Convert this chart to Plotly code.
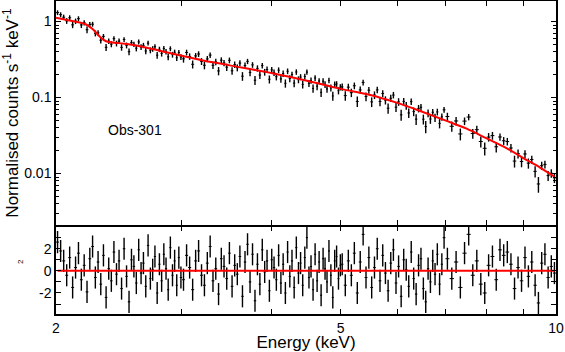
import numpy as np
import plotly.graph_objects as go
from plotly.subplots import make_subplots

# bin centres (keV)
energy = [
    2.01, 2.03, 2.05, 2.07, 2.09, 2.11, 2.13, 2.15, 2.17, 2.19,
    2.21, 2.23, 2.25, 2.27, 2.29, 2.31, 2.33, 2.35, 2.37, 2.39,
    2.41, 2.43, 2.45, 2.47, 2.49, 2.51, 2.53, 2.55, 2.57, 2.59,
    2.61, 2.63, 2.65, 2.67, 2.69, 2.71, 2.73, 2.75, 2.77, 2.79,
    2.81, 2.83, 2.85, 2.87, 2.89, 2.91, 2.93, 2.95, 2.97, 2.99,
    3.015, 3.045, 3.075, 3.105, 3.135, 3.165, 3.195,
    3.225, 3.255, 3.285, 3.315, 3.345, 3.375, 3.405, 3.435, 3.465, 3.495,
    3.525, 3.555, 3.585, 3.615, 3.645, 3.675, 3.705, 3.735, 3.765, 3.795,
    3.825, 3.855, 3.885, 3.915, 3.945, 3.975,
    4.005, 4.035, 4.065, 4.095, 4.125, 4.155, 4.185, 4.215, 4.245, 4.275,
    4.305, 4.335, 4.365, 4.395, 4.425, 4.455, 4.485,
    4.515, 4.545, 4.575, 4.605, 4.635, 4.665, 4.695, 4.725, 4.755, 4.785,
    4.815, 4.845, 4.875, 4.905, 4.935, 4.965, 4.995,
    5.025, 5.075, 5.125, 5.175, 5.225, 5.275, 5.325, 5.375, 5.425, 5.475,
    5.525, 5.575, 5.625, 5.675, 5.725, 5.775, 5.825, 5.875, 5.925, 5.975,
    6.025, 6.075, 6.125, 6.175, 6.225, 6.275, 6.325, 6.375, 6.425, 6.475,
    6.525, 6.575, 6.625, 6.675, 6.725, 6.775, 6.825, 6.875, 6.925, 6.975,
    7.05, 7.15, 7.25, 7.35, 7.45, 7.55, 7.65, 7.75, 7.85, 7.95,
    8.05, 8.15, 8.25, 8.35, 8.45, 8.55, 8.65, 8.75, 8.85, 8.95,
    9.05, 9.15, 9.25, 9.35, 9.45, 9.55, 9.65, 9.75, 9.85, 9.95,
]

# normalised counts s^-1 keV^-1
rate = [
    1.31, 1.23, 1.14, 1.02, 1.12, 0.904, 1.01, 1.09, 0.902, 0.963,
    0.780, 0.915, 0.923, 0.699, 0.708, 0.568, 0.637, 0.458, 0.552, 0.504,
    0.595, 0.515, 0.553, 0.457, 0.580, 0.486, 0.401, 0.528, 0.502, 0.446,
    0.539, 0.462, 0.485, 0.410, 0.520, 0.419, 0.437, 0.466, 0.361, 0.431,
    0.381, 0.443, 0.401, 0.343, 0.439, 0.367, 0.395, 0.334, 0.392, 0.342,
    0.323, 0.392, 0.347, 0.274, 0.353, 0.374, 0.299,
    0.266, 0.322, 0.362, 0.266, 0.294, 0.224, 0.310, 0.285, 0.251, 0.309,
    0.225, 0.271, 0.247, 0.284, 0.191, 0.264, 0.299, 0.214, 0.269, 0.169,
    0.242, 0.198, 0.263, 0.216, 0.234, 0.174,
    0.231, 0.213, 0.188, 0.229, 0.176, 0.207, 0.154, 0.222, 0.178, 0.201,
    0.155, 0.217, 0.172, 0.186, 0.149, 0.189, 0.216,
    0.154, 0.168, 0.132, 0.181, 0.141, 0.165, 0.117, 0.164, 0.149, 0.130,
    0.168, 0.134, 0.105, 0.148, 0.151, 0.123, 0.137,
    0.138, 0.106, 0.137, 0.116, 0.143, 0.0889, 0.126, 0.158, 0.103, 0.125,
    0.0877, 0.108, 0.126, 0.0887, 0.113, 0.0924, 0.0725, 0.0979, 0.108, 0.0747,
    0.0879, 0.0592, 0.0890, 0.0783, 0.0627, 0.0884, 0.0654, 0.0520, 0.0718, 0.0746,
    0.0519, 0.0415, 0.0624, 0.0522, 0.0640, 0.0543, 0.0647, 0.0457, 0.0557, 0.0690,
    0.0563, 0.0419, 0.0492, 0.0332, 0.0490, 0.0554, 0.0337, 0.0378, 0.0264, 0.0215,
    0.0302, 0.0316, 0.0225, 0.0303, 0.0270, 0.0264, 0.0217, 0.0146, 0.0183, 0.0144,
    0.0181, 0.0137, 0.0153, 0.0107, 0.0073, 0.0127, 0.0132, 0.0094, 0.0101, 0.0088,
]

rate_err = [
    0.094, 0.093, 0.091, 0.089, 0.088, 0.086, 0.084, 0.083, 0.081, 0.079,
    0.077, 0.072, 0.068, 0.062, 0.057, 0.053, 0.049, 0.047, 0.046, 0.046,
    0.045, 0.045, 0.044, 0.044, 0.043, 0.043, 0.042, 0.042, 0.041, 0.041,
    0.040, 0.040, 0.039, 0.039, 0.038, 0.037, 0.037, 0.036, 0.036, 0.035,
    0.035, 0.034, 0.034, 0.033, 0.033, 0.032, 0.032, 0.031, 0.031, 0.030,
    0.035, 0.034, 0.034, 0.033, 0.032, 0.032, 0.031,
    0.031, 0.030, 0.030, 0.029, 0.029, 0.028, 0.028, 0.027, 0.027, 0.027,
    0.026, 0.026, 0.026, 0.025, 0.025, 0.024, 0.024, 0.024, 0.023, 0.023,
    0.023, 0.023, 0.022, 0.022, 0.022, 0.021,
    0.021, 0.021, 0.020, 0.020, 0.020, 0.020, 0.019, 0.019, 0.019, 0.018,
    0.018, 0.018, 0.018, 0.017, 0.017, 0.017, 0.017,
    0.016, 0.016, 0.016, 0.016, 0.016, 0.015, 0.015, 0.015, 0.015, 0.014,
    0.014, 0.014, 0.014, 0.014, 0.013, 0.013, 0.013,
    0.0155, 0.0151, 0.0149, 0.0146, 0.0144, 0.0140, 0.0138, 0.0136, 0.0133, 0.0131,
    0.0128, 0.0125, 0.0122, 0.0119, 0.0116, 0.0114, 0.0111, 0.0108, 0.0106, 0.0103,
    0.0101, 0.0098, 0.0095, 0.0093, 0.0090, 0.0088, 0.0086, 0.0083, 0.0081, 0.0079,
    0.0077, 0.0075, 0.0073, 0.0071, 0.0069, 0.0068, 0.0066, 0.0064, 0.0062, 0.0061,
    0.0068, 0.0065, 0.0062, 0.0059, 0.0056, 0.0053, 0.0050, 0.0047, 0.0044, 0.0042,
    0.0039, 0.0037, 0.0035, 0.0033, 0.0032, 0.0030, 0.0028, 0.0026, 0.0025, 0.0023,
    0.0022, 0.0021, 0.0019, 0.0018, 0.0017, 0.0016, 0.0015, 0.0014, 0.0013, 0.0013,
]

# residuals in units of sigma
chi = [
    2.6, 1.8, 0.9, -0.4, 1.2, -1.5, 0.3, 1.6, -0.8, 0.5,
    -1.9, 1.1, 2.2, -0.6, 0.8, -1.2, 1.4, -2.4, 0.2, -0.9,
    1.7, -0.3, 0.9, -1.6, 2.0, -0.5, -2.8, 1.0, 0.4, -1.1,
    1.9, -0.2, 0.7, -1.4, 2.3, -0.7, 0.1, 1.3, -2.0, 0.6,
    -0.9, 1.5, 0.2, -1.7, 2.1, -0.4, 0.9, -1.3, 1.2, -0.6,
    -0.8, 1.4, 0.3, -1.7, 0.9, 1.8, -0.4,
    -1.3, 0.7, 2.2, -0.9, 0.2, -2.1, 1.1, 0.4, -0.7, 1.6,
    -1.4, 0.5, -0.3, 1.3, -2.3, 0.8, 2.4, -1.0, 1.5, -2.7,
    0.6, -1.2, 1.9, -0.1, 0.9, -1.8,
    1.0, 0.3, -0.8, 1.4, -1.1, 0.6, -2.0, 1.7, -0.5, 0.9,
    -1.5, 2.1, -0.2, 0.7, -1.3, 1.2, 3.0,
    -0.6, 0.4, -1.7, 1.5, -0.9, 0.8, -2.2, 1.1, 0.2, -1.0,
    1.8, -0.4, -2.4, 0.9, 1.3, -0.7, 0.5,
    0.6, -1.3, 0.9, -0.4, 1.6, -2.0, 0.8, 3.3, -0.6, 1.2,
    -1.5, 0.3, 2.0, -0.9, 1.4, -0.2, -1.8, 0.7, 1.9, -1.1,
    0.4, -2.3, 1.0, 0.1, -1.4, 1.7, -0.7, -2.1, 0.5, 1.1,
    -1.6, -2.8, 0.2, -1.0, 0.9, -0.3, 1.5, -1.2, 0.6, 3.0,
    1.1, -0.7, 0.8, -1.5, 1.6, 3.3, -0.4, 0.9, -1.2, -2.0,
    0.5, 1.3, -0.8, 1.9, 1.4, 1.7, 0.6, -1.6, 0.3, -0.9,
    1.2, -0.5, 0.8, -1.3, -2.9, 0.7, 1.5, -0.6, 0.4, -0.2,
]

# folded model curve
model_energy = [2.0, 2.08, 2.15, 2.2, 2.25, 2.3, 2.35, 2.45, 2.6, 2.8, 3.0, 3.2,
                3.5, 4.0, 4.5, 5.0, 5.5, 6.0, 6.5, 7.0, 7.5, 8.0, 8.5, 9.0, 9.5, 9.95]
model_rate = [1.12, 1.04, 0.98, 0.92, 0.80, 0.64, 0.55, 0.52, 0.48, 0.41, 0.355, 0.31,
              0.265, 0.21, 0.165, 0.13, 0.108, 0.085, 0.065, 0.05, 0.039, 0.029, 0.022,
              0.016, 0.012, 0.0091]

x_tickvals = [2, 3, 4, 5, 6, 7, 8, 9, 10]
x_ticktext = ["2", "", "", "5", "", "", "", "", "10"]
y_tickvals = [0.01, 0.1, 1]
y_ticktext = ["0.01", "0.1", "1"]
chi_tickvals = [-3, -2, -1, 0, 1, 2, 3]
chi_ticktext = ["", "-2", "", "0", "", "2", ""]

FONT = "Liberation Sans, Arial, sans-serif"
half_width = np.gradient(np.array(energy)) / 2

fig = make_subplots(rows=2, cols=1, shared_xaxes=True, vertical_spacing=0,
                    row_heights=[0.716, 0.284])

fig.add_trace(go.Scatter(
    x=energy, y=rate, mode="markers",
    marker=dict(size=1, color="black"),
    error_y=dict(type="data", array=rate_err, color="black", thickness=1.4, width=0),
    error_x=dict(type="data", array=half_width, color="black", thickness=1, width=0),
    showlegend=False,
), row=1, col=1)
fig.add_trace(go.Scatter(
    x=model_energy, y=model_rate, mode="lines", line=dict(color="red", width=2, shape="spline"),
    showlegend=False,
), row=1, col=1)

fig.add_trace(go.Scatter(
    x=energy, y=chi, mode="markers",
    marker=dict(size=1, color="black"),
    error_y=dict(type="constant", value=1, color="black", thickness=1.4, width=0),
    error_x=dict(type="data", array=half_width, color="black", thickness=1, width=0),
    showlegend=False,
), row=2, col=1)
fig.add_trace(go.Scatter(
    x=energy, y=[0] * len(energy), mode="lines", line=dict(color="red", width=2),
    showlegend=False,
), row=2, col=1)

axis_style = dict(showline=True, linecolor="black", linewidth=1.5, mirror="allticks",
                  ticks="inside", ticklen=5, tickwidth=1, tickcolor="black",
                  showgrid=False, zeroline=False, automargin=False)

fig.update_xaxes(type="log", range=[np.log10(2), 1], tickvals=x_tickvals, ticktext=x_ticktext,
                 **axis_style)
fig.update_xaxes(showticklabels=False, row=1, col=1)
fig.update_xaxes(title=dict(text="Energy (keV)", standoff=0), row=2, col=1)

fig.update_yaxes(type="log", range=[-2.678, 0.27], tickvals=y_tickvals, ticktext=y_ticktext,
                 minor=dict(ticks="inside", ticklen=3, tickcolor="black", dtick="D1"),
                 title=dict(text="Normalised counts s<sup>-1</sup> keV<sup>-1</sup>", standoff=4),
                 domain=[0.284, 1], row=1, col=1, **axis_style)
# pull the residual panel down by one line width so the shared border is a single line
fig.update_yaxes(range=[-3.9, 4.0], tickvals=chi_tickvals, ticktext=chi_ticktext,
                 domain=[0, 0.2792], row=2, col=1, **axis_style)

fig.add_annotation(x=0.158, y=0.588, xref="paper", yref="paper", text="Obs-301",
                   xanchor="center", yanchor="middle", showarrow=False,
                   font=dict(size=14, color="black", family=FONT))
fig.add_annotation(x=-0.072, y=0.166, xref="paper", yref="paper", text="2", textangle=-90,
                   xanchor="center", yanchor="middle", showarrow=False,
                   font=dict(size=8, color="black", family=FONT))

fig.update_layout(
    width=565, height=352,
    margin=dict(l=56, r=9, t=1, b=38),
    paper_bgcolor="white", plot_bgcolor="white",
    font=dict(family=FONT, size=14, color="black"),
)

# the page body has a default 8px margin; drop it so the figure fills the window
fig.write_html("out.html", config={"displayModeBar": False},
               post_script="document.body.style.margin = '0';")
